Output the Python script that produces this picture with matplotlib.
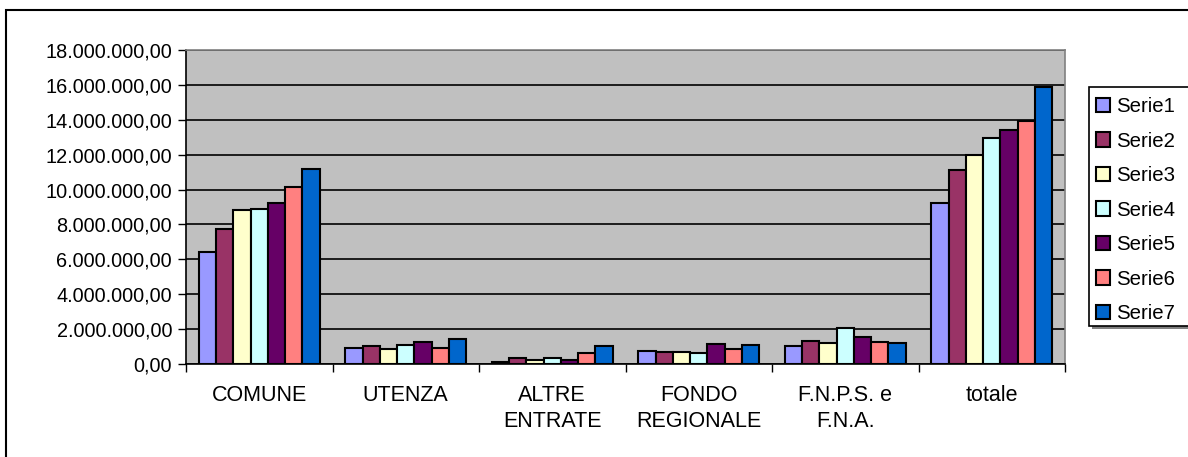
import matplotlib.pyplot as plt
import numpy as np
from matplotlib.patches import Rectangle
from matplotlib.ticker import FuncFormatter

plt.rcParams['font.family'] = ['Liberation Sans', 'DejaVu Sans']

categories = ["COMUNE", "UTENZA", "ALTRE\nENTRATE", "FONDO\nREGIONALE", "F.N.P.S. e\nF.N.A.", "totale"]
series_names = ["Serie1", "Serie2", "Serie3", "Serie4", "Serie5", "Serie6", "Serie7"]

serie1 = [6440000, 900000, 100000, 750000, 1050000, 9210000]
serie2 = [7720000, 1030000, 330000, 670000, 1340000, 11120000]
serie3 = [8830000, 860000, 230000, 690000, 1220000, 11980000]
serie4 = [8900000, 1090000, 330000, 650000, 2080000, 12980000]
serie5 = [9210000, 1280000, 230000, 1150000, 1570000, 13420000]
serie6 = [10170000, 940000, 650000, 840000, 1240000, 13930000]
serie7 = [11160000, 1410000, 1030000, 1090000, 1200000, 15900000]
values = [serie1, serie2, serie3, serie4, serie5, serie6, serie7]

colors = ["#9999FF", "#993366", "#FFFFCC", "#CCFFFF", "#660066", "#FF8080", "#0066CC"]

W, H = 1188, 457
fig = plt.figure(figsize=(W / 100, H / 100), dpi=100)
ax = fig.add_axes([186 / W, 1 - 364 / H, (1065 - 186) / W, (364 - 50) / H])
ax.set_facecolor("#C0C0C0")

# Excel-style clustered bars: gap of 1.5 bar widths between groups
n = len(values)
bar_w = 1 / (n + 1.5)
x = np.arange(len(categories))
for i, (name, vals) in enumerate(zip(series_names, values)):
    offs = (i - (n - 1) / 2) * bar_w
    ax.bar(x + offs, vals, width=bar_w, color=colors[i], edgecolor="black",
           linewidth=1.5, label=name, zorder=3)

ax.set_xlim(-0.5, len(categories) - 0.5)
ax.set_ylim(0, 18000000)
ax.set_yticks(np.arange(0, 18000001, 2000000))
ax.yaxis.set_major_formatter(FuncFormatter(
    lambda v, p: f"{v:,.2f}".replace(",", "X").replace(".", ",").replace("X", ".")))
ax.yaxis.grid(True, color="black", linewidth=1.2, zorder=1)

# category labels centred, ticks on group boundaries
ax.set_xticks(x)
ax.set_xticklabels(categories, fontsize=15.5, linespacing=1.35)
ax.tick_params(axis="x", length=0, pad=15)
ax.set_xticks(np.arange(-0.5, len(categories), 1), minor=True)
ax.tick_params(axis="x", which="minor", length=6, width=1, color="black")
ax.tick_params(axis="y", labelsize=14.3, length=6, width=1, pad=4)

for side in ["left", "bottom"]:
    ax.spines[side].set_color("black")
    ax.spines[side].set_linewidth(1.2)
for side in ["top", "right"]:
    ax.spines[side].set_color("#808080")
    ax.spines[side].set_linewidth(1.2)

# legend box runs off the right edge, with a grey drop shadow
fig.patches.append(Rectangle((1092 / W, 1 - 329 / H), 120 / W, (329 - 90) / H,
                             transform=fig.transFigure, facecolor="#808080",
                             edgecolor="none", zorder=-2))
fig.patches.append(Rectangle((1089 / W, 1 - 326 / H), 120 / W, (326 - 87) / H,
                             transform=fig.transFigure, facecolor="white",
                             edgecolor="black", linewidth=1.2, zorder=-1))
leg = ax.legend(loc="upper left", bbox_to_anchor=(1096 / W, 1 - 97 / H),
                bbox_transform=fig.transFigure, fontsize=14.7, frameon=False,
                borderpad=0, labelspacing=0.76, handlelength=0.7,
                handleheight=0.7, handletextpad=0.3, borderaxespad=0)

# outer chart border
fig.patches.append(Rectangle((6 / W, -0.05), 1.1, 1 - 10 / H + 0.05,
                             transform=fig.transFigure, fill=False,
                             edgecolor="black", linewidth=1.5, zorder=-1))

fig.savefig("out.png", dpi=100, facecolor="white")
